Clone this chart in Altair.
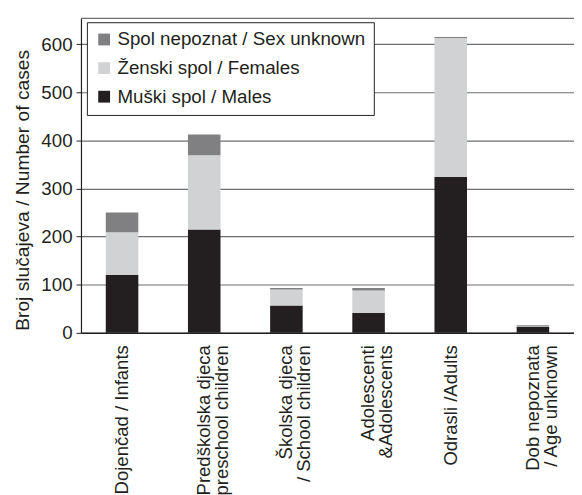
import altair as alt
import pandas as pd

categories = [
    "Dojenčad / Infants",
    "Predškolska djeca|/ preschool children",
    "Školska djeca|/ School children",
    "Adolescenti|&Adolescents",
    "Odrasli /Adults",
    "Dob nepoznata|/ Age unknown",
]
males = [121, 215, 57, 41, 324, 12]
females = [88, 154, 33, 47, 289, 1]
unknown = [41, 43, 3, 5, 2, 3]

series_names = ["Spol nepoznat / Sex unknown", "Ženski spol / Females", "Muški spol / Males"]
series_colors = ["#808083", "#d1d2d4", "#231f20"]

rows = []
for i, c in enumerate(categories):
    rows.append({"cat": c, "series": series_names[2], "value": males[i], "ord": 0})
    rows.append({"cat": c, "series": series_names[1], "value": females[i], "ord": 1})
    rows.append({"cat": c, "series": series_names[0], "value": unknown[i], "ord": 2})
df = pd.DataFrame(rows)

YMAX = 653.7
FONT = "Liberation Sans"

bars = alt.Chart(df).mark_bar(size=33).encode(
    x=alt.X("cat:N", sort=categories, scale=alt.Scale(paddingInner=0.6, paddingOuter=0.3),
            axis=alt.Axis(title=None, labelAngle=270, labelAlign="right", labelBaseline="middle",
                          labelExpr="split(datum.label, '|')", labelLineHeight=18,
                          labelFontSize=18.8, labelFont=FONT, labelColor="#231f20",
                          labelPadding=12, ticks=False, domain=True, domainColor="#231f20",
                          domainWidth=1.5, grid=False)),
    y=alt.Y("value:Q", stack="zero",
            scale=alt.Scale(domain=[0, YMAX], nice=False),
            axis=alt.Axis(title="Broj slučajeva / Number of cases", values=[0, 100, 200, 300, 400, 500, 600],
                          titleFont=FONT, titleFontSize=19.5, titleFontWeight="normal", titleColor="#231f20",
                          titlePadding=9, titleY=174,
                          labelFont=FONT, labelFontSize=19, labelColor="#231f20", labelPadding=4,
                          tickSize=5, tickColor="#231f20", domainColor="#231f20", domainWidth=1.2,
                          grid=True, gridColor="#6d6e71", gridWidth=1.2)),
    color=alt.Color("series:N", scale=alt.Scale(domain=series_names, range=series_colors),
                    legend=alt.Legend(title=None, orient="none", legendX=6, legendY=4,
                                      symbolType="square", symbolSize=144, symbolStrokeWidth=0,
                                      labelFont=FONT, labelFontSize=19, labelColor="#231f20",
                                      labelOffset=4, rowPadding=9, padding=8,
                                      strokeColor="#231f20", fillColor="white",
                                      labelLimit=400)),
    order=alt.Order("ord:Q"),
)

top_rule = alt.Chart(pd.DataFrame({"v": [YMAX]})).mark_rule(color="#6d6e71", strokeWidth=1.2).encode(
    y=alt.Y("v:Q", scale=alt.Scale(domain=[0, YMAX], nice=False))
)

chart = alt.layer(bars, top_rule).properties(
    width=500, height=319,
    autosize=alt.AutoSizeParams(type="none"),
    padding={"left": 74, "top": 7, "right": 0, "bottom": 161},
).configure_view(stroke=None)

chart.save("out.html", embed_options={"renderer": "svg", "actions": False})
